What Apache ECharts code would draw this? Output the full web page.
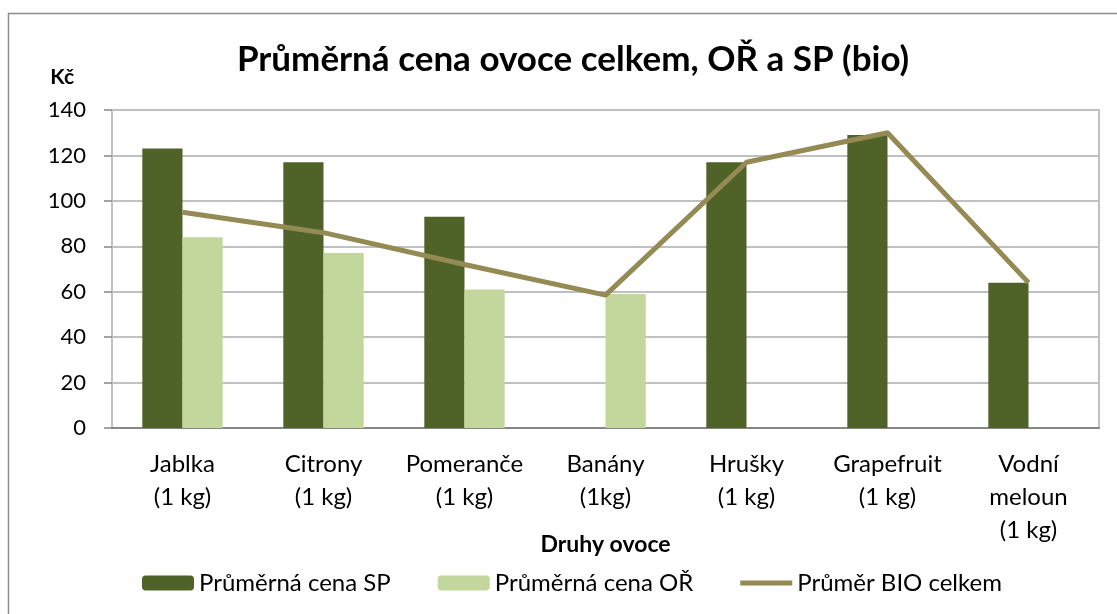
<!DOCTYPE html>
<html>
<head>
<meta charset="utf-8">
<script src="https://cdn.jsdelivr.net/npm/echarts@6/dist/echarts.min.js"></script>
<style>
  html, body { margin: 0; padding: 0; background: #ffffff; }
  #chart { width: 1117px; height: 614px; }
</style>
</head>
<body>
<div id="chart"></div>
<script>
// data
const categories = ['Jablka\n(1 kg)', 'Citrony\n(1 kg)', 'Pomeranče\n(1 kg)', 'Banány\n(1kg)', 'Hrušky\n(1 kg)', 'Grapefruit\n(1 kg)', 'Vodní\nmeloun\n(1 kg)'];
const cenaSP = [123, 117, 93, null, 117, 129, 64];
const cenaOR = [84, 77, 61, 59, null, null, null];
const prumerBio = [95, 86, 72, 58.5, 117, 130, 64];
const yTicks = { min: 0, max: 140, interval: 20 };

const font = 'Lato, "Open Sans", sans-serif';

let chart = echarts.init(document.getElementById('chart'));
chart.setOption({
  textStyle: { fontFamily: font, color: '#000' },
  animation: false,
  title: {
    text: 'Průměrná cena ovoce celkem, OŘ a SP (bio)',
    left: 568,
    top: 37,
    textAlign: 'center',
    textStyle: { fontFamily: font, fontSize: 35, fontWeight: 'bold', color: '#000' }
  },
  graphic: [
    { // outer chart frame
      type: 'rect',
      shape: { x: 8.5, y: 13.5, width: 1200, height: 700 },
      style: { fill: 'none', stroke: '#8c8c8c', lineWidth: 1.5 },
      silent: true
    }
  ],
  legend: {
    left: 137,
    top: 566,
    itemWidth: 52,
    itemHeight: 15,
    itemGap: 47,
    textStyle: { fontFamily: font, fontSize: 24, color: '#000' },
    data: [
      'Průměrná cena SP',
      'Průměrná cena OŘ',
      // thin bar in the middle of the icon box, like a line marker
      { name: 'Průměr BIO celkem', icon: 'path://M0,0M0,5h52v5h-52zM52,15' }
    ]
  },
  grid: {
    left: 112, right: 18, top: 110, bottom: 186,
    show: true, borderColor: '#c0c0c0', borderWidth: 2, backgroundColor: 'transparent'
  },
  xAxis: {
    type: 'category',
    data: categories,
    name: 'Druhy ovoce',
    nameLocation: 'middle',
    nameGap: 105,
    nameMoveOverlap: false,
    nameTextStyle: { fontFamily: font, fontSize: 23, fontWeight: 'bold', color: '#000' },
    axisLine: { lineStyle: { color: '#868686', width: 2 } },
    axisTick: { show: false },
    axisLabel: { interval: 0, margin: 20, fontSize: 24, lineHeight: 33, color: '#000', fontFamily: font }
  },
  yAxis: {
    type: 'value',
    min: yTicks.min, max: yTicks.max, interval: yTicks.interval,
    name: 'Kč',
    nameLocation: 'end',
    nameGap: 22,
    nameTextStyle: { fontFamily: font, fontSize: 21, fontWeight: 'bold', color: '#000', align: 'right', padding: [0, 38, 0, 0] },
    axisLine: { show: true, lineStyle: { color: '#c0c0c0', width: 2 } },
    axisTick: { show: true, length: 8, lineStyle: { color: '#868686', width: 1.5 } },
    axisLabel: { margin: 26, fontSize: 22, color: '#000', fontFamily: font },
    splitLine: { lineStyle: { color: '#c0c0c0', width: 2 } }
  },
  series: [
    {
      name: 'Průměrná cena SP',
      type: 'bar',
      data: cenaSP,
      barGap: '0%',
      barCategoryGap: '43%',
      itemStyle: { color: '#4f6228' }
    },
    {
      name: 'Průměrná cena OŘ',
      type: 'bar',
      data: cenaOR,
      itemStyle: { color: '#c3d69b' }
    },
    {
      name: 'Průměr BIO celkem',
      type: 'line',
      data: prumerBio,
      symbol: 'none',
      lineStyle: { color: '#948a54', width: 5 },
      itemStyle: { color: '#948a54' }
    }
  ]
});
</script>
</body>
</html>
